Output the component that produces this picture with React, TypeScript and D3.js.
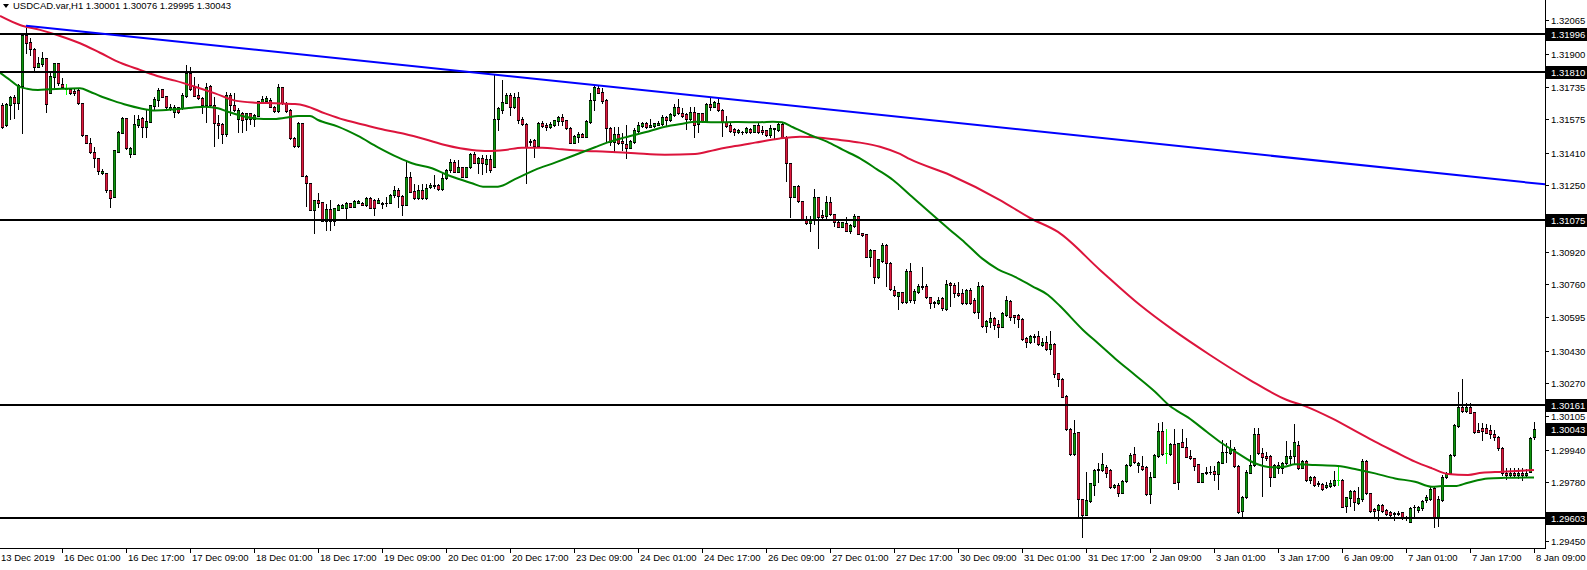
import React from 'react';
import * as d3 from 'd3';

// ---------- DATA (USDCAD H1) ----------
const openP = [
1.31646,1.31547,1.31646,1.31684,1.31655,1.31740,1.31993,1.31957,1.31922,1.31836,
1.31849,1.31877,1.31707,1.31786,1.31856,1.31750,1.31725,1.31725,1.31717,1.31721,
1.31655,1.31498,1.31457,1.31415,1.31382,1.31308,1.31311,1.31226,1.31192,1.31415,
1.31509,1.31580,1.31404,1.31404,1.31547,1.31580,1.31539,1.31564,1.31643,1.31671,
1.31724,1.31691,1.31625,1.31613,1.31635,1.31630,1.31691,1.31806,1.31737,1.31696,
1.31679,1.31646,1.31740,1.31646,1.31559,1.31552,1.31501,1.31696,1.31646,1.31575,
1.31605,1.31575,1.31605,1.31575,1.31592,1.31658,1.31666,1.31670,1.31638,1.31618,
1.31734,1.31655,1.31622,1.31481,1.31443,1.31559,1.31295,1.31262,1.31127,1.31176,
1.31168,1.31074,1.31130,1.31074,1.31127,1.31135,1.31135,1.31163,1.31143,1.31163,
1.31163,1.31151,1.31184,1.31176,1.31163,1.31163,1.31163,1.31163,1.31201,1.31226,
1.31196,1.31151,1.31291,1.31221,1.31184,1.31226,1.31184,1.31239,1.31245,1.31250,
1.31229,1.31283,1.31325,1.31366,1.31316,1.31338,1.31291,1.31338,1.31404,1.31361,
1.31382,1.31354,1.31378,1.31341,1.31575,1.31622,1.31658,1.31696,1.31635,1.31684,
1.31575,1.31551,1.31468,1.31473,1.31443,1.31559,1.31547,1.31539,1.31547,1.31569,
1.31585,1.31572,1.31531,1.31460,1.31489,1.31503,1.31489,1.31564,1.31671,1.31729,
1.31712,1.31671,1.31531,1.31465,1.31503,1.31470,1.31453,1.31435,1.31465,1.31519,
1.31542,1.31559,1.31539,1.31542,1.31547,1.31552,1.31588,1.31572,1.31597,1.31635,
1.31608,1.31602,1.31575,1.31613,1.31552,1.31605,1.31569,1.31651,1.31638,1.31658,
1.31622,1.31564,1.31547,1.31526,1.31514,1.31514,1.31514,1.31526,1.31514,1.31547,
1.31523,1.31523,1.31498,1.31526,1.31523,1.31552,1.31489,1.31358,1.31189,1.31245,
1.31173,1.31081,1.31061,1.31077,1.31189,1.31102,1.31097,1.31168,1.31107,1.31069,
1.31044,1.31061,1.31024,1.31047,1.31097,1.31011,1.31008,1.30895,1.30929,1.30796,
1.30876,1.30953,1.30866,1.30731,1.30701,1.30722,1.30673,1.30826,1.30681,1.30722,
1.30750,1.30750,1.30694,1.30665,1.30665,1.30689,1.30635,1.30767,1.30755,1.30717,
1.30717,1.30665,1.30731,1.30681,1.30623,1.30750,1.30552,1.30574,1.30590,1.30562,
1.30549,1.30607,1.30678,1.30607,1.30607,1.30586,1.30491,1.30475,1.30499,1.30503,
1.30458,1.30475,1.30437,1.30463,1.30318,1.30289,1.30206,1.30041,1.29919,1.30029,
1.29694,1.29617,1.29688,1.29765,1.29840,1.29840,1.29856,1.29840,1.29754,1.29765,
1.29727,1.29787,1.29864,1.29919,1.29864,1.29859,1.29856,1.29721,1.29806,1.29909,
1.30034,1.29922,1.29919,1.29968,1.29782,1.29980,1.29955,1.29909,1.29897,1.29869,
1.29782,1.29823,1.29831,1.29836,1.29820,1.29876,1.29930,1.29925,1.29942,1.29859,
1.29638,1.29704,1.29826,1.29864,1.30018,1.29925,1.29909,1.29909,1.29806,1.29864,
1.29848,1.29873,1.29899,1.29909,1.29963,1.29848,1.29886,1.29790,1.29806,1.29774,
1.29770,1.29754,1.29760,1.29765,1.29790,1.29790,1.29661,1.29699,1.29737,1.29678,
1.29694,1.29886,1.29724,1.29645,1.29642,1.29666,1.29642,1.29633,1.29625,1.29622,
1.29633,1.29608,1.29584,1.29655,1.29642,1.29650,1.29691,1.29694,1.29749,1.29605,
1.29691,1.29803,1.29826,1.29914,1.30057,1.30153,1.30133,1.30153,1.30128,1.30038,
1.30046,1.30046,1.30038,1.30018,1.30004,1.29947,1.29826,1.29815,1.29826,1.29815,
1.29826,1.29815,1.29831,1.30001];

const highP = [
1.31658,1.31658,1.31691,1.31696,1.31750,1.32001,1.32026,1.31976,1.31927,1.31885,
1.31910,1.31877,1.31806,1.31856,1.31856,1.31781,1.31750,1.31729,1.31724,1.31724,
1.31658,1.31498,1.31481,1.31440,1.31382,1.31328,1.31311,1.31226,1.31424,1.31519,
1.31585,1.31580,1.31440,1.31597,1.31597,1.31585,1.31622,1.31646,1.31684,1.31729,
1.31725,1.31691,1.31651,1.31646,1.31635,1.31704,1.31844,1.31836,1.31783,1.31750,
1.31687,1.31754,1.31747,1.31687,1.31597,1.31556,1.31712,1.31704,1.31704,1.31630,
1.31613,1.31608,1.31605,1.31602,1.31668,1.31691,1.31691,1.31679,1.31641,1.31750,
1.31737,1.31663,1.31625,1.31486,1.31564,1.31559,1.31300,1.31262,1.31176,1.31209,
1.31168,1.31156,1.31176,1.31135,1.31156,1.31156,1.31168,1.31163,1.31176,1.31176,
1.31168,1.31189,1.31192,1.31180,1.31184,1.31168,1.31192,1.31206,1.31245,1.31234,
1.31201,1.31366,1.31316,1.31255,1.31250,1.31255,1.31255,1.31259,1.31300,1.31255,
1.31316,1.31328,1.31378,1.31374,1.31374,1.31341,1.31338,1.31407,1.31415,1.31390,
1.31399,1.31399,1.31399,1.31800,1.31635,1.31770,1.31704,1.31704,1.31707,1.31712,
1.31585,1.31556,1.31477,1.31477,1.31564,1.31569,1.31556,1.31564,1.31572,1.31592,
1.31602,1.31572,1.31536,1.31498,1.31514,1.31509,1.31572,1.31704,1.31745,1.31740,
1.31729,1.31675,1.31539,1.31539,1.31539,1.31506,1.31547,1.31473,1.31531,1.31564,
1.31564,1.31564,1.31575,1.31559,1.31569,1.31597,1.31592,1.31605,1.31651,1.31675,
1.31630,1.31608,1.31635,1.31638,1.31608,1.31608,1.31655,1.31679,1.31668,1.31679,
1.31625,1.31592,1.31559,1.31534,1.31526,1.31519,1.31539,1.31531,1.31547,1.31559,
1.31542,1.31523,1.31547,1.31531,1.31556,1.31564,1.31493,1.31361,1.31245,1.31250,
1.31173,1.31097,1.31097,1.31229,1.31192,1.31127,1.31196,1.31192,1.31107,1.31074,
1.31069,1.31090,1.31057,1.31107,1.31097,1.31014,1.31008,1.30932,1.30929,1.30883,
1.30962,1.30958,1.30871,1.30750,1.30722,1.30722,1.30833,1.30866,1.30734,1.30760,
1.30843,1.30760,1.30697,1.30678,1.30697,1.30694,1.30780,1.30772,1.30767,1.30772,
1.30734,1.30734,1.30739,1.30689,1.30772,1.30755,1.30582,1.30623,1.30595,1.30582,
1.30623,1.30701,1.30681,1.30607,1.30612,1.30590,1.30496,1.30508,1.30513,1.30529,
1.30491,1.30503,1.30529,1.30467,1.30321,1.30293,1.30211,1.30046,1.30087,1.30029,
1.29694,1.29831,1.29777,1.29843,1.29873,1.29925,1.29864,1.29843,1.29770,1.29774,
1.29790,1.29869,1.29922,1.29952,1.29881,1.29909,1.29859,1.29831,1.29919,1.30074,
1.30079,1.30041,1.29972,1.30041,1.29975,1.30041,1.29996,1.29939,1.29897,1.29869,
1.29826,1.29856,1.29859,1.29859,1.29886,1.29988,1.29972,1.29988,1.29955,1.29864,
1.29711,1.29840,1.29914,1.30046,1.30046,1.29947,1.29930,1.29914,1.29869,1.29881,
1.29881,1.29985,1.29939,1.30067,1.29983,1.29889,1.29889,1.29810,1.29810,1.29787,
1.29774,1.29782,1.29790,1.29836,1.29864,1.29794,1.29707,1.29741,1.29741,1.29757,
1.29893,1.29889,1.29727,1.29650,1.29671,1.29671,1.29645,1.29638,1.29633,1.29638,
1.29633,1.29612,1.29655,1.29666,1.29661,1.29691,1.29716,1.29754,1.29754,1.29711,
1.29815,1.29831,1.29919,1.30067,1.30227,1.30289,1.30170,1.30170,1.30128,1.30074,
1.30071,1.30067,1.30062,1.30038,1.30008,1.29952,1.29848,1.29848,1.29848,1.29848,
1.29848,1.29844,1.30003,1.30076];

const lowP = [
1.31531,1.31542,1.31575,1.31580,1.31625,1.31509,1.31902,1.31894,1.31815,1.31833,
1.31839,1.31613,1.31704,1.31737,1.31745,1.31737,1.31701,1.31701,1.31696,1.31651,
1.31493,1.31457,1.31410,1.31341,1.31305,1.31305,1.31217,1.31143,1.31192,1.31415,
1.31506,1.31427,1.31387,1.31404,1.31539,1.31489,1.31489,1.31564,1.31625,1.31641,
1.31686,1.31625,1.31622,1.31588,1.31605,1.31625,1.31687,1.31721,1.31691,1.31675,
1.31608,1.31564,1.31638,1.31443,1.31481,1.31460,1.31493,1.31597,1.31618,1.31514,
1.31514,1.31523,1.31552,1.31542,1.31592,1.31655,1.31655,1.31635,1.31612,1.31613,
1.31651,1.31612,1.31477,1.31440,1.31440,1.31295,1.31146,1.31127,1.31014,1.31143,
1.31074,1.31028,1.31028,1.31052,1.31127,1.31135,1.31077,1.31143,1.31143,1.31163,
1.31151,1.31148,1.31135,1.31102,1.31160,1.31135,1.31146,1.31160,1.31192,1.31143,
1.31102,1.31151,1.31217,1.31180,1.31180,1.31180,1.31180,1.31234,1.31234,1.31226,
1.31226,1.31279,1.31316,1.31316,1.31316,1.31288,1.31288,1.31333,1.31358,1.31311,
1.31305,1.31316,1.31316,1.31338,1.31523,1.31605,1.31655,1.31597,1.31630,1.31559,
1.31547,1.31259,1.31448,1.31390,1.31440,1.31539,1.31523,1.31531,1.31542,1.31547,
1.31547,1.31526,1.31457,1.31457,1.31465,1.31486,1.31486,1.31559,1.31622,1.31704,
1.31655,1.31465,1.31448,1.31420,1.31453,1.31424,1.31382,1.31432,1.31460,1.31514,
1.31539,1.31531,1.31539,1.31539,1.31547,1.31547,1.31542,1.31569,1.31592,1.31602,
1.31588,1.31526,1.31572,1.31486,1.31514,1.31564,1.31564,1.31622,1.31635,1.31618,
1.31493,1.31539,1.31514,1.31498,1.31506,1.31503,1.31509,1.31509,1.31514,1.31506,
1.31503,1.31493,1.31486,1.31481,1.31519,1.31481,1.31272,1.31090,1.31189,1.31168,
1.31077,1.31057,1.31024,1.31057,1.30937,1.31077,1.31085,1.31102,1.31047,1.31041,
1.31041,1.31024,1.31011,1.31044,1.31008,1.30998,1.30895,1.30849,1.30767,1.30788,
1.30871,1.30750,1.30731,1.30701,1.30635,1.30668,1.30668,1.30671,1.30668,1.30717,
1.30734,1.30689,1.30640,1.30645,1.30661,1.30632,1.30632,1.30651,1.30697,1.30701,
1.30661,1.30661,1.30661,1.30618,1.30590,1.30549,1.30524,1.30549,1.30536,1.30496,
1.30546,1.30602,1.30582,1.30569,1.30549,1.30483,1.30447,1.30470,1.30475,1.30458,
1.30453,1.30434,1.30414,1.30301,1.30255,1.30199,1.30038,1.29914,1.29914,1.29608,
1.29506,1.29617,1.29683,1.29716,1.29782,1.29836,1.29803,1.29749,1.29749,1.29711,
1.29724,1.29782,1.29859,1.29876,1.29831,1.29840,1.29716,1.29678,1.29803,1.29905,
1.29914,1.29876,1.29914,1.29774,1.29744,1.29952,1.29902,1.29893,1.29840,1.29782,
1.29782,1.29820,1.29820,1.29790,1.29744,1.29873,1.29881,1.29919,1.29856,1.29625,
1.29600,1.29699,1.29826,1.29859,1.29919,1.29711,1.29889,1.29760,1.29803,1.29826,
1.29826,1.29869,1.29869,1.29869,1.29843,1.29848,1.29787,1.29774,1.29762,1.29760,
1.29741,1.29749,1.29754,1.29760,1.29765,1.29655,1.29633,1.29661,1.29642,1.29671,
1.29688,1.29721,1.29633,1.29600,1.29592,1.29633,1.29617,1.29608,1.29592,1.29617,
1.29596,1.29592,1.29584,1.29612,1.29633,1.29642,1.29683,1.29691,1.29559,1.29562,
1.29688,1.29798,1.29823,1.29909,1.30054,1.30128,1.30128,1.30120,1.30024,1.30029,
1.29988,1.30021,1.29996,1.29988,1.29939,1.29815,1.29794,1.29806,1.29803,1.29798,
1.29790,1.29806,1.29829,1.29995];

const closeP = [
1.31539,1.31650,1.31684,1.31655,1.31745,1.31993,1.31955,1.31922,1.31836,1.31856,
1.31877,1.31650,1.31790,1.31853,1.31754,1.31737,1.31725,1.31704,1.31704,1.31655,
1.31498,1.31457,1.31415,1.31382,1.31321,1.31321,1.31226,1.31184,1.31424,1.31514,
1.31580,1.31432,1.31432,1.31552,1.31575,1.31539,1.31569,1.31646,1.31675,1.31723,
1.31687,1.31638,1.31638,1.31635,1.31613,1.31696,1.31806,1.31724,1.31691,1.31679,
1.31646,1.31737,1.31646,1.31556,1.31547,1.31501,1.31696,1.31646,1.31622,1.31622,
1.31572,1.31605,1.31575,1.31597,1.31668,1.31675,1.31681,1.31635,1.31618,1.31734,
1.31655,1.31618,1.31481,1.31443,1.31559,1.31295,1.31262,1.31127,1.31176,1.31163,
1.31074,1.31130,1.31074,1.31135,1.31151,1.31151,1.31163,1.31143,1.31173,1.31173,
1.31151,1.31184,1.31135,1.31135,1.31176,1.31156,1.31160,1.31201,1.31226,1.31196,
1.31151,1.31291,1.31217,1.31184,1.31226,1.31184,1.31234,1.31250,1.31250,1.31229,
1.31283,1.31325,1.31366,1.31316,1.31338,1.31291,1.31338,1.31404,1.31361,1.31382,
1.31358,1.31378,1.31325,1.31575,1.31630,1.31663,1.31696,1.31638,1.31684,1.31572,
1.31551,1.31437,1.31465,1.31443,1.31559,1.31542,1.31539,1.31552,1.31572,1.31585,
1.31569,1.31531,1.31460,1.31493,1.31503,1.31489,1.31569,1.31671,1.31734,1.31707,
1.31668,1.31531,1.31465,1.31503,1.31457,1.31457,1.31432,1.31468,1.31523,1.31547,
1.31559,1.31539,1.31545,1.31556,1.31559,1.31585,1.31572,1.31602,1.31635,1.31605,
1.31592,1.31575,1.31613,1.31547,1.31605,1.31569,1.31651,1.31638,1.31663,1.31622,
1.31564,1.31542,1.31519,1.31514,1.31523,1.31511,1.31531,1.31514,1.31547,1.31514,
1.31514,1.31498,1.31531,1.31531,1.31552,1.31489,1.31358,1.31189,1.31245,1.31173,
1.31077,1.31060,1.31077,1.31189,1.31093,1.31093,1.31168,1.31107,1.31069,1.31044,
1.31069,1.31024,1.31052,1.31097,1.31008,1.31003,1.30895,1.30929,1.30796,1.30883,
1.30953,1.30866,1.30734,1.30706,1.30722,1.30673,1.30826,1.30681,1.30727,1.30750,
1.30744,1.30694,1.30668,1.30673,1.30681,1.30640,1.30760,1.30755,1.30717,1.30706,
1.30665,1.30731,1.30665,1.30623,1.30750,1.30552,1.30579,1.30590,1.30557,1.30549,
1.30618,1.30681,1.30595,1.30595,1.30586,1.30487,1.30475,1.30503,1.30503,1.30463,
1.30475,1.30437,1.30463,1.30315,1.30289,1.30202,1.30041,1.29919,1.30024,1.29694,
1.29617,1.29691,1.29774,1.29840,1.29843,1.29869,1.29826,1.29754,1.29765,1.29727,
1.29787,1.29864,1.29914,1.29881,1.29876,1.29843,1.29721,1.29806,1.29914,1.30034,
1.29919,1.29922,1.29968,1.29777,1.29972,1.29955,1.29905,1.29897,1.29859,1.29782,
1.29826,1.29831,1.29828,1.29820,1.29881,1.29930,1.29927,1.29942,1.29859,1.29633,
1.29707,1.29831,1.29864,1.30018,1.29922,1.29902,1.29897,1.29806,1.29864,1.29848,
1.29873,1.29909,1.29909,1.29980,1.29848,1.29886,1.29790,1.29806,1.29765,1.29770,
1.29744,1.29765,1.29777,1.29790,1.29790,1.29658,1.29704,1.29737,1.29683,1.29699,
1.29886,1.29724,1.29638,1.29638,1.29666,1.29638,1.29622,1.29617,1.29622,1.29628,
1.29605,1.29600,1.29650,1.29658,1.29658,1.29688,1.29704,1.29744,1.29605,1.29694,
1.29806,1.29823,1.29914,1.30062,1.30153,1.30133,1.30153,1.30123,1.30029,1.30029,
1.30034,1.30024,1.30018,1.30004,1.29947,1.29823,1.29815,1.29826,1.29815,1.29826,
1.29815,1.29826,1.29998,1.30043];

// moving averages, sampled at bar positions
const greenBars = [-0.5,2,4,6.25,9,12,16.25,19.5,22,24.5,27.75,31.25,34.5,38.25,43.25,47.5,50.75,54,56.5,60,
63.25,67.5,70.75,74,77,79,84,89,94,99,102.5,107.5,110.75,114,117.5,120.25,124,128.25,133.25,138.25,
143.25,148.25,151.25,155.75,160.75,165.75,170.75,173.25,178.25,184,189.5,192.75,195,197.75,202,206.25,210.25,214.5,218.75,222.75,
227,237,240.75,245,249,253.25,257.5,261.5,264.5,270.25,274,278.25,283.25,288.25,292,296.5,301.25,305,309,313.25,
317.5,320.75,323.25,328.25,334,338.75,343.25,348.25,353.25,357.5,360,363.25,366.5,371.5,375.75,383];
const greenMA = [1.31806,1.31770,1.31740,1.31727,1.31721,1.31724,1.31727,1.31729,1.31712,1.31691,1.31668,1.31646,1.31630,1.31619,1.31625,1.31633,1.31638,1.31630,1.31613,1.31592,
1.31580,1.31577,1.31583,1.31592,1.31592,1.31572,1.31539,1.31493,1.31437,1.31387,1.31358,1.31333,1.31305,1.31281,1.31259,1.31242,1.31242,1.31279,1.31325,1.31361,
1.31399,1.31437,1.31460,1.31486,1.31511,1.31539,1.31556,1.31564,1.31561,1.31562,1.31561,1.31564,1.31561,1.31536,1.31498,1.31465,1.31424,1.31382,1.31328,1.31275,
1.31201,1.31028,1.30965,1.30887,1.30833,1.30796,1.30750,1.30706,1.30651,1.30533,1.30467,1.30392,1.30310,1.30227,1.30156,1.30100,1.30028,1.29972,1.29922,1.29873,
1.29853,1.29856,1.29868,1.29864,1.29859,1.29842,1.29823,1.29798,1.29782,1.29757,1.29760,1.29760,1.29777,1.29798,1.29801,1.29803];

const redBars = [-0.5,4.5,9.5,14.5,19.5,24.5,29.5,34.5,39.5,43.25,48.25,53.25,58.25,63.25,68.25,73.25,75.75,80.75,85.75,90.75,
95.75,100.75,105.75,110.75,114.5,117.5,121.5,125.75,130,135,140,145,151.25,158.25,165.75,173.25,178.25,183.25,188.25,194.5,
199.5,204.5,209.5,214.5,219.5,224.5,227,237,249.5,257,264,274.5,284.5,292.75,302,312,321.25,325.75,332.5,338.75,
343.25,348.25,353.25,357.5,361.5,366.5,370,375,383];
const redMA = [1.32087,1.32042,1.32018,1.31988,1.31952,1.31905,1.31856,1.31820,1.31786,1.31767,1.31737,1.31704,1.31668,1.31658,1.31655,1.31651,1.31643,1.31605,1.31572,1.31547,
1.31523,1.31503,1.31477,1.31448,1.31432,1.31424,1.31419,1.31424,1.31435,1.31435,1.31427,1.31420,1.31415,1.31407,1.31400,1.31404,1.31424,1.31443,1.31460,1.31481,
1.31489,1.31484,1.31473,1.31460,1.31440,1.31404,1.31378,1.31300,1.31176,1.31087,1.31018,1.30830,1.30656,1.30533,1.30409,1.30285,1.30186,1.30156,1.30095,1.30028,
1.29980,1.29930,1.29881,1.29848,1.29820,1.29815,1.29826,1.29831,1.29840];

const trendBars = [6, 123];
const trendPrices = [1.32039, 1.31797];
const levelPrices = [1.31996, 1.31810, 1.31075, 1.30161, 1.29603];
const currentPrice = 1.30043;
const priceTicks = [1.32065, 1.31900, 1.31735, 1.31575, 1.31410, 1.31250, 1.30920, 1.30760, 1.30595, 1.30430, 1.30270, 1.30105, 1.29940, 1.29780, 1.29450];
const timeLabels = ["13 Dec 2019", "16 Dec 01:00", "16 Dec 17:00", "17 Dec 09:00", "18 Dec 01:00", "18 Dec 17:00", "19 Dec 09:00", "20 Dec 01:00", "20 Dec 17:00", "23 Dec 09:00", "24 Dec 01:00", "24 Dec 17:00", "26 Dec 09:00", "27 Dec 01:00", "27 Dec 17:00", "30 Dec 09:00", "31 Dec 01:00", "31 Dec 17:00", "2 Jan 09:00", "3 Jan 01:00", "3 Jan 17:00", "6 Jan 09:00", "7 Jan 01:00", "7 Jan 17:00", "8 Jan 09:00"];
const timeLabelBars = [-0.5, 15, 31, 47, 63, 79, 95, 111, 127, 143, 159, 175, 191, 207, 223, 239, 255, 271, 287, 303, 319, 335, 351, 367, 383];
const header = "USDCAD.var,H1  1.30001 1.30076 1.29995 1.30043";

const W = 1587;
const H = 570;
const AXIS_X = 1545;
const AXIS_Y = 548;
const FONT = "'Liberation Sans', Arial, sans-serif";
const BULL = '#0c960c';
const BEAR = '#e0183e';
const DOJI = '#00ff00';

export default function App() {
  const x = d3.scaleLinear().domain([0, openP.length - 1]).range([2, 1534]);
  const y = d3.scaleLinear().domain([1.32166, 1.29466]).range([0, 545.5]);

  const candles = openP.map((o, i) => {
    const h = highP[i], l = lowP[i], c = closeP[i];
    const cx = Math.round(x(i));
    const yh = Math.round(y(h));
    const yl = Math.round(y(l));
    const yo = Math.round(y(o));
    const yc = Math.round(y(c));
    if (o === c) {
      return (
        <g key={i}>
          <rect x={cx} y={yh} width={1} height={Math.max(1, yl - yh + 1)} fill={DOJI} />
          <rect x={cx - 1} y={yo} width={3} height={1} fill={DOJI} />
        </g>
      );
    }
    const top = Math.min(yo, yc);
    const bot = Math.max(yo, yc);
    const bh = Math.max(1, bot - top + 1);
    const col = c > o ? BULL : BEAR;
    return (
      <g key={i}>
        <rect x={cx} y={yh} width={1} height={Math.max(1, yl - yh + 1)} fill="#000" />
        <rect x={cx - 1} y={top} width={3} height={bh} fill="#000" />
        {bh > 2 && <rect x={cx - 0.5} y={top + 1} width={2} height={bh - 2} fill={col} />}
      </g>
    );
  });

  const line = d3.line<[number, number]>()
    .x(d => x(d[0]))
    .y(d => y(d[1]))
    .curve(d3.curveMonotoneX);
  const greenPath = line(greenBars.map((b, i) => [b, greenMA[i]] as [number, number])) || '';
  const redPath = line(redBars.map((b, i) => [b, redMA[i]] as [number, number])) || '';

  const slope = (trendPrices[1] - trendPrices[0]) / (trendBars[1] - trendBars[0]);
  const endBar = x.invert(AXIS_X);
  const trendEnd = trendPrices[0] + slope * (endBar - trendBars[0]);

  const boxPrices = [...levelPrices, currentPrice];

  return (
    <svg width={W} height={H} style={{ position: 'absolute', left: 0, top: 0, background: '#fff' }}
      fontFamily={FONT} fontSize={9.5}>
      <rect x={0} y={0} width={W} height={H} fill="#fff" />
      <defs>
        <clipPath id="plot"><rect x={0} y={0} width={AXIS_X} height={AXIS_Y} /></clipPath>
      </defs>
      <g clipPath="url(#plot)">
        {candles}
        <path d={redPath} fill="none" stroke="#dc143c" strokeWidth={2} />
        <path d={greenPath} fill="none" stroke="#008000" strokeWidth={2} />
        {levelPrices.map(p => (
          <rect key={p} x={0} y={Math.round(y(p)) - 1} width={AXIS_X} height={2} fill="#000" />
        ))}
        <line x1={x(trendBars[0])} y1={y(trendPrices[0])} x2={AXIS_X} y2={y(trendEnd)}
          stroke="#0000ff" strokeWidth={2} />
      </g>
      {/* header */}
      <path d="M3,4 L9,4 L6,8 Z" fill="#000" />
      <text x={13} y={9} fill="#000">{header}</text>
      {/* axes */}
      <rect x={AXIS_X} y={0} width={1} height={AXIS_Y + 1} fill="#000" />
      <rect x={0} y={AXIS_Y} width={AXIS_X + 1} height={1} fill="#000" />
      {priceTicks.map(p => {
        const yy = Math.min(Math.round(y(p)), 541);
        return (
          <g key={p}>
            <rect x={AXIS_X + 1} y={yy} width={3} height={1} fill="#000" />
            <text x={AXIS_X + 6} y={yy + 3.5} fill="#000">{p.toFixed(5)}</text>
          </g>
        );
      })}
      {boxPrices.map(p => {
        const yy = Math.round(y(p));
        return (
          <g key={'b' + p}>
            <rect x={AXIS_X + 1} y={yy - 6} width={W - AXIS_X - 1} height={13} fill="#000" />
            <text x={AXIS_X + 6} y={yy + 3.5} fill="#fff">{p.toFixed(5)}</text>
          </g>
        );
      })}
      {timeLabels.map((t, k) => {
        const xx = Math.round(x(timeLabelBars[k]));
        return (
          <g key={t}>
            {k > 0 && <rect x={xx} y={AXIS_Y + 1} width={1} height={4} fill="#000" />}
            <text x={k > 0 ? xx + 2 : 1} y={AXIS_Y + 13} fill="#000">{t}</text>
          </g>
        );
      })}
    </svg>
  );
}
